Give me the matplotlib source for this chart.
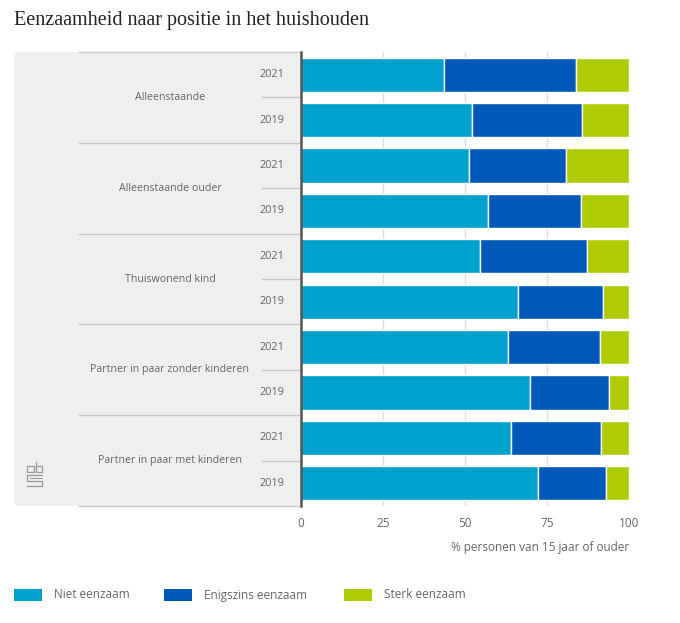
import matplotlib
matplotlib.use("Agg")
import matplotlib.pyplot as plt
from matplotlib.patches import FancyBboxPatch, Rectangle

# ---- data ----
groups = ["Alleenstaande", "Alleenstaande ouder", "Thuiswonend kind",
          "Partner in paar zonder kinderen", "Partner in paar met kinderen"]
years = ["2021", "2019"]
niet = [43.5, 52.0, 51.3, 56.9, 54.5, 66.3, 63.2, 69.7, 63.9, 72.2]
enigszins = [40.3, 33.6, 29.4, 28.4, 32.8, 25.8, 28.0, 24.2, 27.6, 20.7]
sterk = [16.2, 14.4, 19.3, 14.7, 12.7, 7.9, 8.8, 6.1, 8.5, 7.1]
series_names = ["Niet eenzaam", "Enigszins eenzaam", "Sterk eenzaam"]
xticks = [0, 25, 50, 75, 100]

colors = ["#00a1cd", "#0058b8", "#afcb05"]
txt = "#666666"
W, H = 680, 623

plt.rcParams['font.family'] = ['Open Sans', 'DejaVu Sans']

fig = plt.figure(figsize=(W / 100, H / 100), dpi=100)

# overlay in pixel coordinates for the decoration around the chart
ov = fig.add_axes([0, 0, 1, 1], zorder=0)
ov.set_xlim(0, W)
ov.set_ylim(H, 0)
ov.axis("off")

ov.add_patch(FancyBboxPatch((14, 52), 301 - 14, 506 - 52,
                            boxstyle="round,pad=0,rounding_size=6",
                            facecolor="#efefef", edgecolor="none"))

ax = fig.add_axes([301 / W, 1 - 506 / H, (629 - 301) / W, (506 - 52) / H],
                  zorder=2)
ax.set_facecolor("none")

n = len(niet)
ypos = list(range(n))
h = 0.75
left = [0] * n
for vals, col, name in zip([niet, enigszins, sterk], colors, series_names):
    ax.barh(ypos, vals, left=left, height=h, color=col, edgecolor="white",
            linewidth=1, label=name, zorder=3)
    left = [a + b for a, b in zip(left, vals)]

ax.set_xlim(0, 100)
ax.set_ylim(n - 0.5, -0.5)
ax.set_xticks(xticks)
ax.set_xticklabels([str(t) for t in xticks], fontsize=8.5, color=txt)
ax.set_yticks([])
ax.tick_params(axis="x", length=0, pad=8)
for t in xticks[1:]:
    ax.axvline(t, color="#dddddd", linewidth=1, zorder=1)
for s in ["top", "right", "bottom"]:
    ax.spines[s].set_visible(False)
ax.spines["left"].set_color("#555555")
ax.spines["left"].set_linewidth(1.8)
ax.spines["left"].set_zorder(5)

ax.set_xlabel("% personen van 15 jaar of ouder", fontsize=8.5, color=txt,
              loc="right", labelpad=8)

# category / year labels and separator lines inside the panel
row_px = (506 - 52) / n
for gi, g in enumerate(groups):
    top = 52 + 2 * gi * row_px
    ov.plot([79, 301], [top, top], color="#c8c8c8", linewidth=1)
    ov.text(170, top + row_px, g, ha="center", va="center",
            fontsize=7.7, color=txt)
    ov.plot([262, 301], [top + row_px, top + row_px], color="#c8c8c8",
            linewidth=1)
    for yi, yr in enumerate(years):
        ov.text(284, top + (yi + 0.5) * row_px, yr, ha="right",
                va="center", fontsize=7.8, color=txt)
ov.plot([79, 301], [506, 506], color="#c8c8c8", linewidth=1)

# rough CBS logo
lc = "#9a9a9a"
ov.add_patch(Rectangle((27, 466), 6.5, 6, fill=False, edgecolor=lc,
                       linewidth=0.9))
ov.add_patch(Rectangle((35.5, 466), 6.5, 6, fill=False, edgecolor=lc,
                       linewidth=0.9))
ov.plot([35.5, 35.5], [462, 466], color=lc, linewidth=0.9)
ov.plot([42, 27, 27, 42, 42, 27], [475, 475, 480.5, 480.5, 486, 486],
        color=lc, linewidth=0.9)
ov.plot([42, 29.5, 29.5, 42], [477.5, 477.5, 478, 478], color=lc,
        linewidth=0.6)

# title
ov.text(14, 20, "Eenzaamheid naar positie in het huishouden",
        fontsize=14.5, color="#222222", va="center", ha="left",
        family=["Liberation Serif", "DejaVu Serif"])

# legend
leg_x = [14, 164, 344]
for lx, col, name in zip(leg_x, colors, series_names):
    ov.add_patch(Rectangle((lx, 589), 28, 12, facecolor=col,
                           edgecolor="none"))
    ov.text(lx + 40, 595, name, fontsize=8.5, color=txt,
            va="center", ha="left")

fig.savefig("out.png", dpi=100)
